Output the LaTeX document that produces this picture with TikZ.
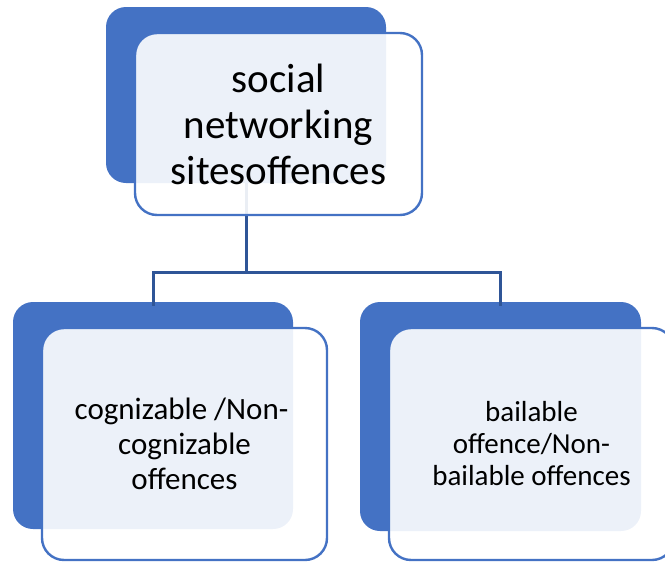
\documentclass[tikz,border=0pt]{standalone}
\usepackage{fontspec}
\setmainfont{Carlito}
\definecolor{accent}{HTML}{4472C4}
\definecolor{linkblue}{HTML}{2F5597}
\begin{document}
\begin{tikzpicture}[x=1pt,y=-1pt,
  backbox/.style={rectangle, rounded corners=20pt, fill=accent, draw=none,
    inner sep=0pt, outer sep=0pt},
  frontbox/.style={rectangle, rounded corners=22pt, fill=white, fill opacity=0.9,
    text opacity=1, draw=accent, line width=2.4pt, inner sep=0pt, outer sep=0pt,
    align=center, text=black},
  link/.style={draw=linkblue, line width=3pt}]
\useasboundingbox (0,0) rectangle (665,563);
\clip (0,0) rectangle (665,563);

% coloured back plates
\node[backbox, minimum width=280pt, minimum height=176pt] (tb) at (246,95) {};
\node[backbox, minimum width=280pt, minimum height=227pt] (lb) at (153,415.5) {};
\node[backbox, minimum width=281pt, minimum height=229pt] (rb) at (500.5,416.5) {};

% tree connectors
\coordinate (j) at (246,272);
\draw[link] (tb.south) -- (j);
\draw[link] (j) -| ([yshift=-4pt]lb.north);
\draw[link] (j) -| ([yshift=-4pt]rb.north);

% front cards with labels
\node[frontbox, minimum width=287pt, minimum height=182pt,
  font=\fontsize{41}{46}\selectfont] (tf) at (278.5,124)
  {social\\networking\\sitesoffences};
\node[frontbox, minimum width=285pt, minimum height=232pt,
  font=\fontsize{31}{35}\selectfont] (lf) at (184.5,444)
  {\hspace*{-6pt}cognizable /Non-\\cognizable\\offences};
\node[frontbox, minimum width=285pt, minimum height=232pt,
  font=\fontsize{29}{32}\selectfont] (rf) at (531.5,444)
  {bailable\\offence/Non-\\bailable offences};
\end{tikzpicture}
\end{document}
